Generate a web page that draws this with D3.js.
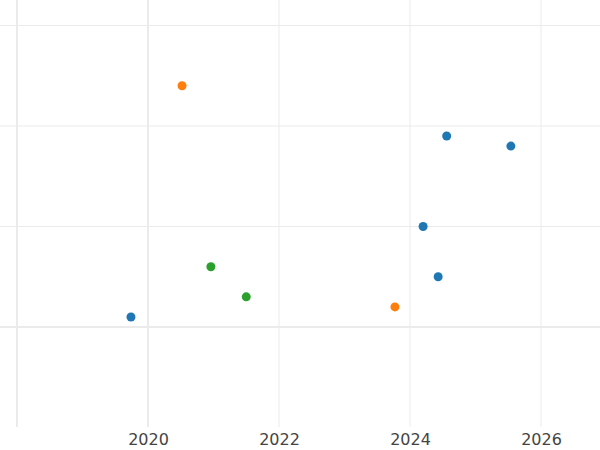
<!DOCTYPE html>
<html><head><meta charset="utf-8">
<script src="https://cdn.jsdelivr.net/npm/d3@7"></script>
<style>body{margin:0;background:#fff}</style></head>
<body><svg id="c" width="600" height="450"></svg>
<script>
const seriesNames = ["blue","orange","green"];
const colors = ["#1f77b4","#ff7f0e","#2ca02c"];
const blueX = [2019.74,2024.56,2025.54,2024.2,2024.43];
const blueY = [0.1,1.9,1.8,1.0,0.5];
const orangeX = [2020.52,2023.77];
const orangeY = [2.4,0.2];
const greenX = [2020.96,2021.5];
const greenY = [0.6,0.3];
const xTicks = [2020,2022,2024,2026];
const xGrid = [2018,2020,2022,2024,2026];
const yGrid = [0,1,2,3];

const svg = d3.select("#c");
const x = d3.scaleLinear().domain([2018,2020]).range([17,148]);
const y = d3.scaleLinear().domain([0,1]).range([327,226.5]);
const bottom = 427;

svg.append("g").selectAll("line").data(xGrid).join("line")
  .attr("x1",d=>x(d)).attr("x2",d=>x(d)).attr("y1",0).attr("y2",bottom)
  .attr("stroke","#ebebeb").attr("stroke-width",d=>d===2018||d===2020?2:1);
svg.append("g").selectAll("line").data(yGrid).join("line")
  .attr("x1",0).attr("x2",600).attr("y1",d=>y(d)).attr("y2",d=>y(d))
  .attr("stroke","#ebebeb").attr("stroke-width",d=>d===0?2:1);

const xAxis = svg.append("g").attr("transform",`translate(0,${bottom})`)
  .call(d3.axisBottom(x).tickValues(xTicks).tickFormat(d3.format("d")).tickSize(0).tickPadding(7));
xAxis.select(".domain").remove();
xAxis.selectAll("text").attr("font-family","DejaVu Sans").attr("font-size",16).attr("fill","#444");

const series = [[blueX,blueY],[orangeX,orangeY],[greenX,greenY]];
series.forEach(([xs,ys],i)=>{
  svg.append("g").selectAll("circle").data(xs.map((v,j)=>[v,ys[j]])).join("circle")
    .attr("cx",d=>x(d[0])).attr("cy",d=>y(d[1])).attr("r",4.5).attr("fill",colors[i]);
});
</script></body></html>
